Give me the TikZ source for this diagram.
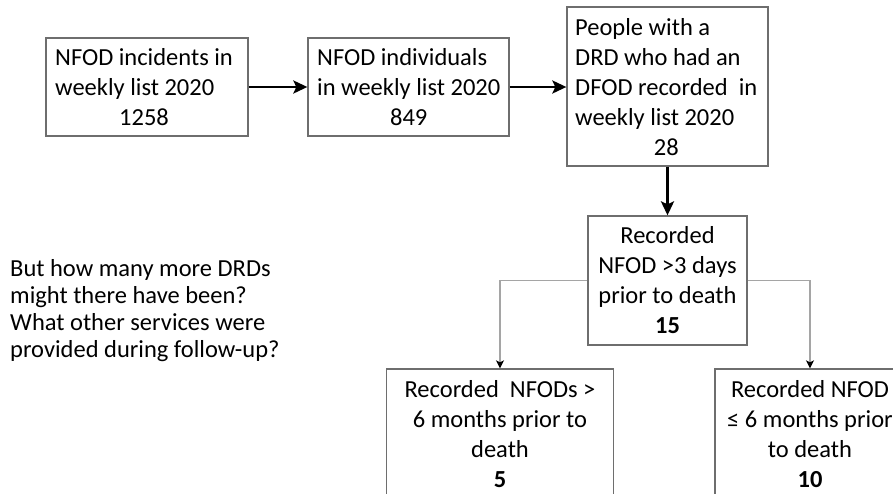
\documentclass[tikz,border=0pt]{standalone}
\usepackage{fontspec}
\setmainfont{Carlito}
\usetikzlibrary{arrows.meta}
\definecolor{boxgray}{RGB}{110,110,110}
\definecolor{linegray}{RGB}{165,165,165}
\newcommand\boxfont{\fontsize{24.5}{30}\selectfont}
\newcommand\notefont{\fontsize{24.5}{27}\selectfont}
\tikzset{
  flowbox/.style={draw=boxgray, line width=1.3pt, rectangle, inner sep=0pt, fill=white},
  boxtext/.style={inner sep=0pt, font=\boxfont, text=black},
  thickarrow/.style={line width=2.7pt, -{Stealth[length=14pt,width=13pt,inset=3pt]}},
  thinarrow/.style={draw=linegray, line width=1.3pt, -{Stealth[length=8pt,width=8pt,inset=2pt,color=black]}}
}
\begin{document}
\begin{tikzpicture}[x=1pt,y=-1pt]
\useasboundingbox (0,0) rectangle (893,493);
\clip (0,0) rectangle (893,493);
\fill[white] (0,0) rectangle (893,493);
% boxes
\node[flowbox, minimum width=202pt, minimum height=98pt] (b1) at (147,87) {};
\node[flowbox, minimum width=201pt, minimum height=98pt] (b2) at (408.5,87) {};
\node[flowbox, minimum width=201pt, minimum height=159pt] (b3) at (667.5,86.5) {};
\node[flowbox, minimum width=159pt, minimum height=129pt] (b4) at (667.5,280.5) {};
\node[flowbox, minimum width=226.5pt, minimum height=131pt] (b5) at (500,434.5) {};
\node[flowbox, minimum width=190pt, minimum height=131pt] (b6) at (810,434.5) {};
% texts
\node[boxtext, anchor=base west] (t1) at (55,65) {\begin{tabular}[t]{@{}l@{}}NFOD incidents in\\weekly list 2020\\\multicolumn{1}{@{}c@{}}{1258}\end{tabular}};
\node[boxtext, anchor=base west] (t2) at (317,65) {\begin{tabular}[t]{@{}l@{}}NFOD individuals\\in weekly list 2020\\\multicolumn{1}{@{}c@{}}{849}\end{tabular}};
\node[boxtext, anchor=base west] (t3) at (575,35) {\begin{tabular}[t]{@{}l@{}}People with a\\DRD who had an\\DFOD recorded\ \ in\\weekly list 2020\\\multicolumn{1}{@{}c@{}}{28}\end{tabular}};
\node[boxtext, anchor=base] (t4) at (667.5,243) {\begin{tabular}[t]{@{}c@{}}Recorded\\NFOD >3 days\\prior to death\\\textbf{15}\end{tabular}};
\node[boxtext, anchor=base] (t5) at (500,397) {\begin{tabular}[t]{@{}c@{}}Recorded\ \ NFODs >\\6 months prior to\\death\\\textbf{5}\end{tabular}};
\node[boxtext, anchor=base] (t6) at (810,397) {\begin{tabular}[t]{@{}c@{}}Recorded NFOD\\≤ 6 months prior\\to death\\\textbf{10}\end{tabular}};
\node[inner sep=0pt, anchor=base west, font=\notefont] (note) at (10,276) {\begin{tabular}[t]{@{}l@{}}But how many more DRDs\\might there have been?\\What other services were\\provided during follow-up?\end{tabular}};
% connectors
\draw[thickarrow] (b1.east) -- (b2.west);
\draw[thickarrow] (b2.east) -- (b2.east -| b3.west);
\draw[thickarrow] (b3.south) -- (b4.north);
\draw[thinarrow] (b4.west) -| (b5.north);
\draw[thinarrow] (b4.east) -| (b6.north);
\end{tikzpicture}
\end{document}
